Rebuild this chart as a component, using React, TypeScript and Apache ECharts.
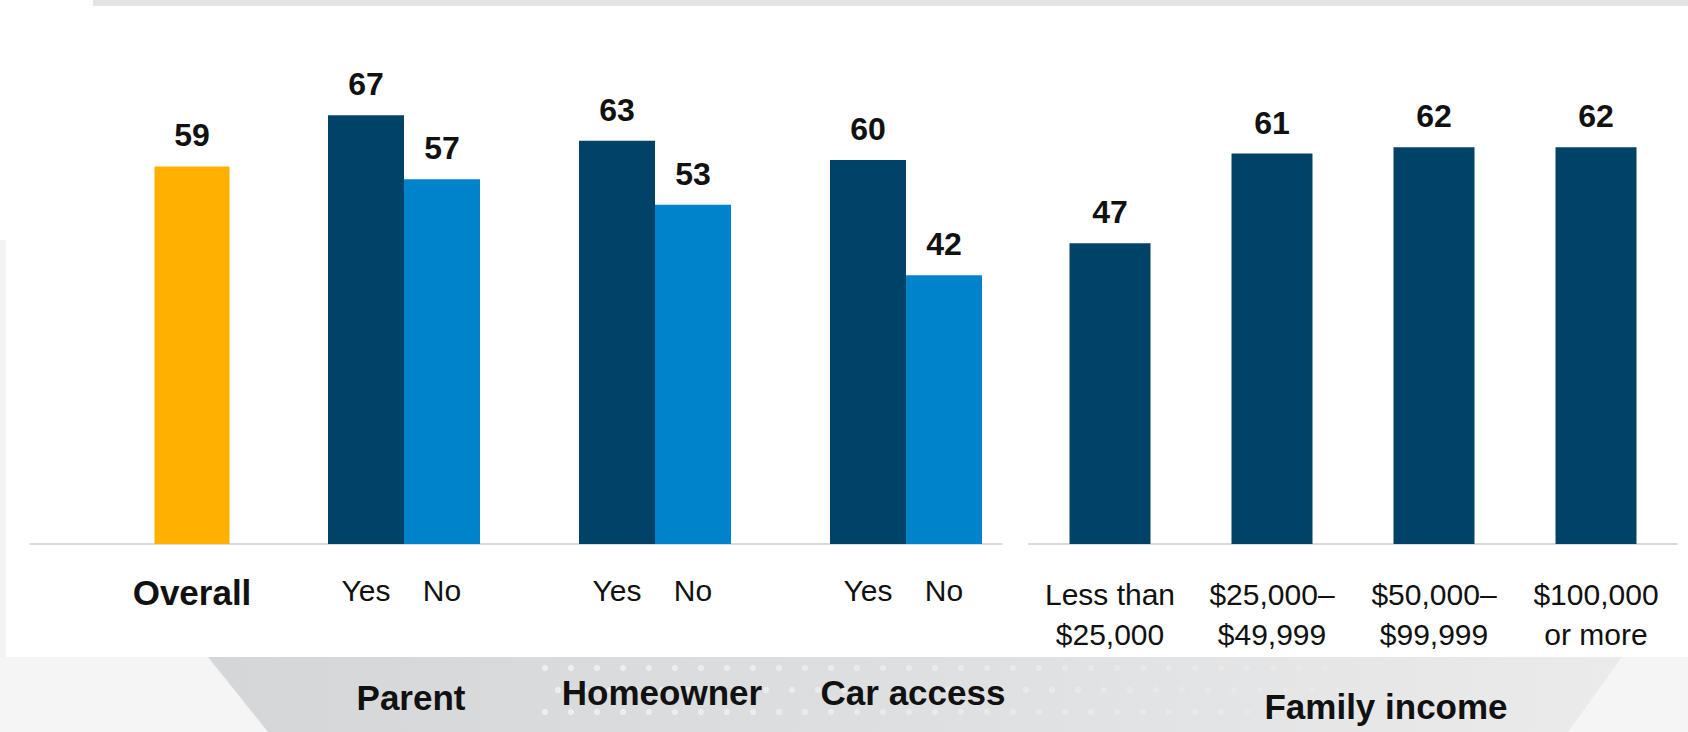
import React, { useEffect, useRef } from "react";
import * as echarts from "echarts";

// ---- Data ----
const overallCategories = ["Overall"];
const overallValues = [59];

const groupNames = ["Parent", "Homeowner", "Car access"];
const yesValues = [67, 63, 60];
const noValues = [57, 53, 42];
const pairLabels = ["Yes", "No"];

const incomeCategories = [
  "Less than\n$25,000",
  "$25,000–\n$49,999",
  "$50,000–\n$99,999",
  "$100,000\nor more",
];
const incomeValues = [47, 61, 62, 62];
const incomeTitle = ["Family income"];

// ---- Styles ----
const FONT = "'Liberation Sans', Arial, sans-serif";
const GOLD = "#FFB000";
const NAVY = "#004268";
const BLUE = "#0083CB";
const AXIS_GRAY = "#d9d9d9";
const TEXT = "#111111";

const valueLabel = {
  show: true,
  position: "top" as const,
  distance: 15,
  fontFamily: FONT,
  fontSize: 32,
  fontWeight: "bold" as const,
  color: TEXT,
};

const hiddenAxisParts = {
  axisLine: { show: false },
  axisTick: { show: false },
  splitLine: { show: false },
};

// decorative dots in the bottom band (background only)
function bandDots() {
  const out: any[] = [];
  const rows = [668, 690, 712];
  rows.forEach((y, r) => {
    for (let x = 545 + (r % 2) * 13; x < 1340; x += 26) {
      const fade = 1 - (x - 545) / 1000;
      out.push({
        type: "circle",
        silent: true,
        z: -98,
        shape: { cx: x, cy: y, r: 3.2 },
        style: { fill: `rgba(255,255,255,${(0.55 * fade).toFixed(2)})` },
      });
    }
  });
  return out;
}

export default function App() {
  const ref = useRef<HTMLDivElement>(null);

  useEffect(() => {
    if (!ref.current) return;
    const chart = echarts.init(ref.current, undefined, { renderer: "svg" });

    const gridTop = 32;
    const gridHeight = 512;

    const yAxes = [0, 1, 2, 3].map((g) => ({
      type: "value" as const,
      gridIndex: g,
      min: 0,
      max: 80,
      show: false,
    }));

    const option: any = {
      animation: false,
      backgroundColor: "#ffffff",
      textStyle: { fontFamily: FONT },
      graphic: {
        elements: [
          {
            type: "rect",
            silent: true,
            z: -100,
            shape: { x: 93, y: 0, width: 1595, height: 6 },
            style: { fill: "#e4e4e4" },
          },
          {
            type: "rect",
            silent: true,
            z: -100,
            shape: { x: 0, y: 240, width: 6, height: 420 },
            style: { fill: "#f3f3f3" },
          },
          {
            type: "rect",
            silent: true,
            z: -100,
            shape: { x: 0, y: 657, width: 1688, height: 75 },
            style: { fill: "#f5f5f5" },
          },
          {
            type: "polygon",
            silent: true,
            z: -99,
            shape: {
              points: [
                [208, 657],
                [1622, 657],
                [1568, 732],
                [268, 732],
              ],
            },
            style: {
              fill: new echarts.graphic.LinearGradient(0, 0, 1, 0, [
                { offset: 0, color: "#d5d6d8" },
                { offset: 0.5, color: "#dedfe0" },
                { offset: 1, color: "#ebebec" },
              ]),
            },
          },
          ...bandDots(),
        ],
      },
      grid: [
        { left: 30, width: 972, top: gridTop, height: gridHeight },
        { left: 21, width: 342, top: gridTop, height: gridHeight },
        { left: 278.5, width: 753, top: gridTop, height: gridHeight },
        { left: 1029, width: 648, top: gridTop, height: gridHeight },
      ],
      xAxis: [
        {
          type: "value",
          gridIndex: 0,
          min: 0,
          max: 1,
          position: "bottom",
          axisLine: { show: true, onZero: false, lineStyle: { color: AXIS_GRAY, width: 2 } },
          axisTick: { show: false },
          axisLabel: { show: false },
          splitLine: { show: false },
        },
        {
          type: "category",
          gridIndex: 1,
          position: "bottom",
          data: overallCategories,
          ...hiddenAxisParts,
          axisLabel: {
            interval: 0,
            margin: 31,
            fontFamily: FONT,
            fontSize: 35,
            fontWeight: "bold",
            color: TEXT,
          },
        },
        {
          type: "category",
          gridIndex: 2,
          position: "bottom",
          data: groupNames,
          ...hiddenAxisParts,
          axisLabel: { show: false },
        },
        {
          type: "category",
          gridIndex: 2,
          position: "bottom",
          data: groupNames.map((name, i) => ({
            value: name,
            textStyle: { padding: i === 0 ? [5, 0, 0, 14] : [0, 0, 0, 14] },
          })),
          ...hiddenAxisParts,
          axisLabel: {
            interval: 0,
            hideOverlap: false,
            margin: 131,
            fontFamily: FONT,
            fontSize: 35,
            fontWeight: "bold",
            color: TEXT,
          },
        },
        {
          type: "category",
          gridIndex: 3,
          position: "bottom",
          data: incomeCategories,
          axisLine: { show: true, lineStyle: { color: AXIS_GRAY, width: 2 } },
          axisTick: { show: false },
          splitLine: { show: false },
          axisLabel: {
            interval: 0,
            margin: 30,
            fontFamily: FONT,
            fontSize: 30,
            lineHeight: 40,
            color: TEXT,
          },
        },
        {
          type: "category",
          gridIndex: 3,
          position: "bottom",
          data: incomeTitle,
          ...hiddenAxisParts,
          axisLabel: {
            interval: 0,
            margin: 145,
            padding: [0, 0, 0, 66],
            fontFamily: FONT,
            fontSize: 35,
            fontWeight: "bold",
            color: TEXT,
          },
        },
      ],
      yAxis: yAxes,
      series: [
        {
          name: "Overall",
          type: "bar",
          xAxisIndex: 1,
          yAxisIndex: 1,
          data: overallValues,
          barWidth: 75,
          itemStyle: { color: GOLD },
          label: valueLabel,
        },
        {
          name: pairLabels[0],
          type: "bar",
          xAxisIndex: 2,
          yAxisIndex: 2,
          data: yesValues,
          barWidth: 76,
          barGap: "0%",
          itemStyle: { color: NAVY },
          label: valueLabel,
        },
        {
          name: pairLabels[1],
          type: "bar",
          xAxisIndex: 2,
          yAxisIndex: 2,
          data: noValues,
          barWidth: 76,
          barGap: "0%",
          itemStyle: { color: BLUE },
          label: valueLabel,
        },
        ...pairLabels.map((lbl, k) => ({
          name: lbl + " label",
          type: "bar",
          xAxisIndex: 3,
          yAxisIndex: 2,
          data: k === 0 ? yesValues : noValues,
          barWidth: 76,
          barGap: "0%",
          silent: true,
          itemStyle: { color: "rgba(0,0,0,0)" },
          label: {
            show: true,
            position: "bottom",
            distance: 31,
            formatter: () => lbl,
            fontFamily: FONT,
            fontSize: 30,
            color: TEXT,
          },
        })),
        {
          name: "Family income",
          type: "bar",
          xAxisIndex: 4,
          yAxisIndex: 3,
          data: incomeValues,
          barWidth: 81,
          itemStyle: { color: NAVY },
          label: valueLabel,
        },
      ],
    };

    chart.setOption(option);
    return () => chart.dispose();
  }, []);

  return (
    <div
      ref={ref}
      style={{ position: "fixed", left: 0, top: 0, width: 1688, height: 732 }}
    />
  );
}
